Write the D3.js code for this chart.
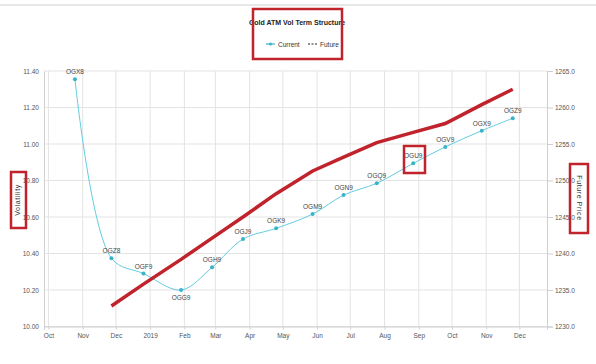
<!DOCTYPE html>
<html lang="en">
<head>
<meta charset="UTF-8">
<script src="https://d3js.org/d3.v7.min.js"></script>
<style>
  body { margin: 0; background: #fff; }
  svg text { font-family: "Liberation Sans Narrow", "Liberation Sans", Arial, sans-serif; }
</style>
</head>
<body>
<div id="chart"></div>
<script>
// option contracts, expiry dates, ATM vols and futures prices
const contracts = ["OGX8","OGZ8","OGF9","OGG9","OGH9","OGJ9","OGK9","OGM9","OGN9","OGQ9","OGU9","OGV9","OGX9","OGZ9"];
const expiries = ["2018-10-25","2018-11-27","2018-12-26","2019-01-29","2019-02-26","2019-03-26","2019-04-25",
                  "2019-05-28","2019-06-25","2019-07-25","2019-08-27","2019-09-25","2019-10-28","2019-11-25"];
const vols = [11.355, 10.374, 10.29, 10.20, 10.324, 10.479, 10.538, 10.616, 10.72, 10.785, 10.894, 10.984, 11.073, 11.141];
const futures = [null, 1232.8, 1235.8, 1239.2, 1242.1, 1245.0, 1248.2, 1251.3, 1253.2, 1255.2, 1256.6, 1257.8, 1260.4, 1262.5];
const volTicks = [10.0, 10.2, 10.4, 10.6, 10.8, 11.0, 11.2, 11.4];
const priceTicks = [1230, 1235, 1240, 1245, 1250, 1255, 1260, 1265];

const parse = d3.timeParse("%Y-%m-%d");
const data = contracts.map((c, i) => ({name: c, date: parse(expiries[i]), vol: vols[i], fut: futures[i]}));

const svg = d3.select("#chart").append("svg")
  .attr("width", 596)
  .attr("height", 364);

svg.append("line").attr("x1", 0).attr("x2", 596).attr("y1", 5).attr("y2", 5)
  .attr("stroke", "#d0d0d0");

const x = d3.scaleTime()
  .domain([new Date(2018, 8, 27), new Date(2019, 11, 26)])
  .range([44, 547]);
const yL = d3.scaleLinear().domain([10, 11.4]).range([326.5, 71]);
const yR = d3.scaleLinear().domain([1230, 1265]).range([326.5, 71]);

const months = d3.timeMonths(new Date(2018, 9, 1), new Date(2019, 11, 2));

// grid
svg.append("g").selectAll("line").data(months).join("line")
  .attr("x1", d => x(d)).attr("x2", d => x(d))
  .attr("y1", 71).attr("y2", 326.5)
  .attr("stroke", "#e3e3e3");
svg.append("g").selectAll("line").data(volTicks).join("line")
  .attr("x1", 44).attr("x2", 547)
  .attr("y1", d => yL(d)).attr("y2", d => yL(d))
  .attr("stroke", "#e3e3e3");

const fmtMonth = d => d.getMonth() === 0 ? d3.timeFormat("%Y")(d) : d3.timeFormat("%b")(d);

const xAxis = svg.append("g")
  .attr("transform", "translate(0,326.5)")
  .call(d3.axisBottom(x).tickValues(months).tickFormat(fmtMonth).tickSize(3).tickPadding(4));
const lAxis = svg.append("g")
  .attr("transform", "translate(44,0)")
  .call(d3.axisLeft(yL).tickValues(volTicks).tickFormat(d3.format(".2f")).tickSize(0).tickPadding(5));
const rAxis = svg.append("g")
  .attr("transform", "translate(547,0)")
  .call(d3.axisRight(yR).tickValues(priceTicks).tickFormat(d3.format(".1f")).tickSize(6).tickPadding(2));

[xAxis, lAxis, rAxis].forEach(a => {
  a.select(".domain").attr("stroke", "#cfcfcf");
  a.selectAll(".tick line").attr("stroke", "#cfcfcf");
  a.selectAll("text").attr("fill", "#555").style("font-size", "6.5px");
});

// current vol curve
svg.append("path")
  .datum(data)
  .attr("fill", "none")
  .attr("stroke", "#62cde0")
  .attr("stroke-width", 1)
  .attr("d", d3.line().x(d => x(d.date)).y(d => yL(d.vol)).curve(d3.curveCatmullRom.alpha(0.5)));

svg.append("g").selectAll("circle").data(data).join("circle")
  .attr("cx", d => x(d.date)).attr("cy", d => yL(d.vol))
  .attr("r", 2)
  .attr("fill", "#38b3c8");

svg.append("g").selectAll("text").data(data).join("text")
  .attr("x", d => x(d.date))
  .attr("y", d => d.name === "OGG9" ? yL(d.vol) + 10 : yL(d.vol) - 5)
  .attr("text-anchor", "middle")
  .attr("fill", "#444")
  .style("font-size", "6.5px")
  .text(d => d.name);

// futures line (highlighted)
svg.append("path")
  .datum(data.filter(d => d.fut != null))
  .attr("fill", "none")
  .attr("stroke", "#c0232b")
  .attr("stroke-width", 3.5)
  .attr("d", d3.line().x(d => x(d.date)).y(d => yR(d.fut)));

// axis titles
svg.append("text")
  .attr("transform", "translate(20,200) rotate(-90)")
  .attr("text-anchor", "middle")
  .attr("fill", "#333")
  .style("font-size", "7px")
  .style("letter-spacing", "0.6px")
  .text("Volatility");
svg.append("text")
  .attr("transform", "translate(577,198) rotate(90)")
  .attr("text-anchor", "middle")
  .attr("fill", "#333")
  .style("font-size", "7px")
  .style("letter-spacing", "0.6px")
  .text("Future Price");

// title + legend
svg.append("text")
  .attr("x", 297).attr("y", 25)
  .attr("text-anchor", "middle")
  .attr("fill", "#222")
  .style("font-size", "7px")
  .style("font-weight", "bold")
  .text("Gold ATM Vol Term Structure");
const lg = svg.append("g").attr("transform", "translate(0,44)");
lg.append("line").attr("x1", 266).attr("x2", 275).attr("y1", 0).attr("y2", 0)
  .attr("stroke", "#38b3c8").attr("stroke-width", 1.2);
lg.append("circle").attr("cx", 270.5).attr("cy", 0).attr("r", 1.5).attr("fill", "#38b3c8");
lg.append("text").attr("x", 278).attr("y", 2.5).style("font-size", "6.5px").attr("fill", "#333").text("Current");
lg.append("line").attr("x1", 308).attr("x2", 317).attr("y1", 0).attr("y2", 0)
  .attr("stroke", "#222").attr("stroke-width", 1.2).attr("stroke-dasharray", "2,1.5");
lg.append("text").attr("x", 320).attr("y", 2.5).style("font-size", "6.5px").attr("fill", "#333").text("Future");

// red highlight boxes
const boxes = [
  {x: 253, y: 9, w: 89, h: 50},
  {x: 11, y: 172, w: 15, h: 56},
  {x: 570, y: 164, w: 18, h: 69},
  {x: 404, y: 146, w: 21, h: 27}
];
svg.append("g").selectAll("rect").data(boxes).join("rect")
  .attr("x", d => d.x).attr("y", d => d.y).attr("width", d => d.w).attr("height", d => d.h)
  .attr("fill", "none")
  .attr("stroke", "#c0232b")
  .attr("stroke-width", 2.5);
</script>
</body>
</html>
